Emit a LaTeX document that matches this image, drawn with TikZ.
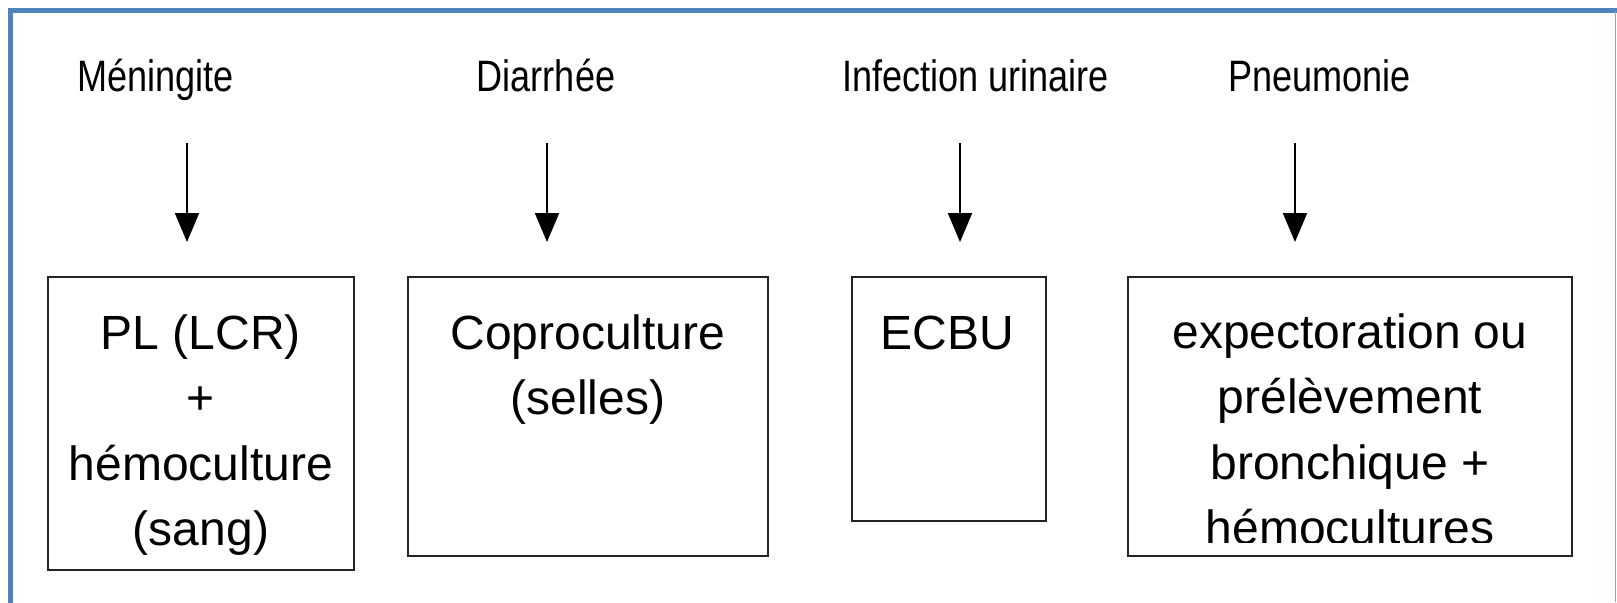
\documentclass[tikz,border=0pt]{standalone}
\usepackage{fontspec}
\setmainfont{Liberation Sans}
\usepackage{graphicx}
\usetikzlibrary{arrows.meta,positioning}
\definecolor{fBlue}{RGB}{79,129,189}
\definecolor{fInk}{RGB}{35,35,35}
\newcommand{\narrowtxt}[1]{\scalebox{0.82}[1]{#1}}
\newcommand{\boxlines}[1]{\fontsize{24}{32.75}\selectfont\begin{tabular}[t]{@{}c@{}}#1\end{tabular}}

\begin{document}
\begin{tikzpicture}[x=0.5pt,y=-0.5pt,
		lab/.style={anchor=base,inner sep=0pt,font=\fontsize{22}{26}\selectfont},
		exam/.style={draw=fInk,line width=1.3pt,inner sep=0pt},
		txt/.style={anchor=base,inner sep=0pt},
		flow/.style={line width=1pt,-{Triangle[width=12pt,length=14.5pt]}}
	]
	\useasboundingbox (0,0) rectangle (1617,602);
	% frame
	\draw[fBlue,line width=2.5pt] (10.5,606) -- (10.5,10.5) -- (1617,10.5);
	\draw[fBlue!70,line width=0.6pt] (1615.5,10.5) -- (1615.5,602);
	% infections
	\node[lab] (mening) at (155.5,91) {\narrowtxt{Méningite}};
	\node[lab] (diarr) at (546,91) {\narrowtxt{Diarrhée}};
	\node[lab] (urin) at (975.5,91) {\narrowtxt{Infection urinaire}};
	\node[lab] (pneumo) at (1319.5,91) {\narrowtxt{Pneumonie}};
	% prelevements
	\node[exam,minimum width=153pt,minimum height=146.5pt] (pl) at (201,423.5) {};
	\node[exam,minimum width=180pt,minimum height=139.5pt] (copro) at (588,416.5) {};
	\node[exam,minimum width=97pt,minimum height=122pt] (ecbu) at (949,399) {};
	\node[exam,minimum width=222pt,minimum height=139.5pt] (crach) at (1350,416.5) {};
	\node[txt] (pltxt) at (201,349) {\boxlines{PL (LCR)\\+\\hémoculture\\(sang)}};
	\node[txt] (coprotxt) at (588,349) {\boxlines{Coproculture\\(selles)}};
	\node[txt,anchor=base west] (ecbutxt) at (880,349) {\boxlines{ECBU}};
	\begin{scope}
		\clip (crach.north west) rectangle (1572,542);
		\node[txt] (crachtxt) at (1350,348) {\boxlines{expectoration ou\\prélèvement\\bronchique +\\hémocultures}};
	\end{scope}
	% arrows
	\foreach \nm/\ax in {m/187,d/547,u/960,p/1295}{
		\coordinate (\nm top) at (\ax,143);
		\coordinate (\nm tip) at (\ax,242);
		\draw[flow] (\nm top) -- (\nm tip);
	}
\end{tikzpicture}
\end{document}
